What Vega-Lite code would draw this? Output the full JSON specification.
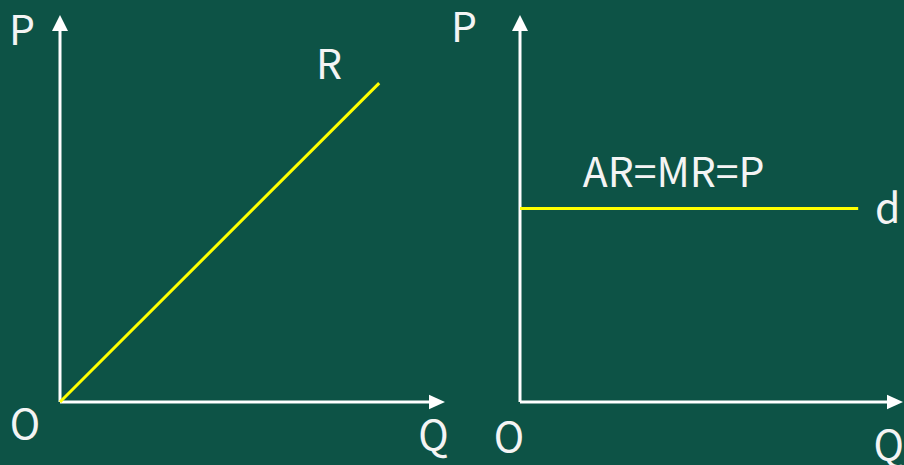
{
  "$schema": "https://vega.github.io/schema/vega-lite/v6.json",
  "background": "#0d5346",
  "padding": {"left": 8, "top": 9, "right": 1, "bottom": 0},
  "spacing": 75,
  "bounds": "flush",
  "config": {
    "view": {"stroke": null},
    "text": {"font": "Noto Sans CJK SC", "fontSize": 41, "color": "#f4f4f4", "align": "center", "baseline": "alphabetic"}
  },
  "datasets": {
    "axesL": [
      {"x": 0, "y": 0, "x2": 9.7, "y2": 0},
      {"x": 0, "y": 0, "x2": 0, "y2": 9.7}
    ],
    "arrowsL": [
      {"x": 10, "y": 0, "dir": "right"},
      {"x": 0, "y": 10, "dir": "up"}
    ],
    "revenue": [
      {"Q": 0, "P": 0},
      {"Q": 8.29, "P": 8.24}
    ],
    "labelsL": [
      {"label": "P", "x": -0.99, "y": 9.22},
      {"label": "R", "x": 6.99, "y": 8.35},
      {"label": "O", "x": -0.91, "y": -0.96},
      {"label": "Q", "x": 9.7, "y": -1.24}
    ],
    "demand": [
      {"Q": 0, "P": 5.0},
      {"Q": 8.83, "P": 5.0}
    ],
    "labelsR": [
      {"label": "P", "x": -1.46, "y": 9.3},
      {"label": "AR=MR=P", "x": 4.01, "y": 5.55},
      {"label": "d", "x": 9.6, "y": 4.63},
      {"label": "O", "x": -0.29, "y": -1.29},
      {"label": "Q", "x": 9.63, "y": -1.5}
    ]
  },
  "hconcat": [
    {
      "width": 385,
      "height": 387,
      "layer": [
        {
          "data": {"name": "axesL"},
          "mark": {"type": "rule", "color": "#ffffff", "strokeWidth": 3},
          "encoding": {
            "x": {"field": "x", "type": "quantitative", "scale": {"domain": [0, 10]}, "axis": null},
            "y": {"field": "y", "type": "quantitative", "scale": {"domain": [0, 10]}, "axis": null},
            "x2": {"field": "x2"},
            "y2": {"field": "y2"}
          }
        },
        {
          "data": {"name": "arrowsL"},
          "mark": {"type": "point", "filled": true, "size": 64, "opacity": 1, "color": "#ffffff"},
          "encoding": {
            "x": {"field": "x", "type": "quantitative", "scale": {"domain": [0, 10]}, "axis": null},
            "y": {"field": "y", "type": "quantitative", "scale": {"domain": [0, 10]}, "axis": null},
            "shape": {"field": "dir", "type": "nominal", "scale": {"domain": ["up", "right"], "range": ["M0,0L-2,4L2,4Z", "M0,0L-4,-1.8L-4,1.8Z"]}, "legend": null}
          }
        },
        {
          "data": {"name": "revenue"},
          "mark": {"type": "line", "color": "#ffff00", "strokeWidth": 3},
          "encoding": {
            "x": {"field": "Q", "type": "quantitative", "scale": {"domain": [0, 10]}, "axis": null},
            "y": {"field": "P", "type": "quantitative", "scale": {"domain": [0, 10]}, "axis": null}
          }
        },
        {
          "data": {"name": "labelsL"},
          "mark": {"type": "text"},
          "encoding": {
            "x": {"field": "x", "type": "quantitative", "scale": {"domain": [0, 10]}, "axis": null},
            "y": {"field": "y", "type": "quantitative", "scale": {"domain": [0, 10]}, "axis": null},
            "text": {"field": "label"}
          }
        }
      ]
    },
    {
      "width": 383,
      "height": 387,
      "layer": [
        {
          "data": {"name": "axesL"},
          "mark": {"type": "rule", "color": "#ffffff", "strokeWidth": 3},
          "encoding": {
            "x": {"field": "x", "type": "quantitative", "scale": {"domain": [0, 10]}, "axis": null},
            "y": {"field": "y", "type": "quantitative", "scale": {"domain": [0, 10]}, "axis": null},
            "x2": {"field": "x2"},
            "y2": {"field": "y2"}
          }
        },
        {
          "data": {"name": "arrowsL"},
          "mark": {"type": "point", "filled": true, "size": 64, "opacity": 1, "color": "#ffffff"},
          "encoding": {
            "x": {"field": "x", "type": "quantitative", "scale": {"domain": [0, 10]}, "axis": null},
            "y": {"field": "y", "type": "quantitative", "scale": {"domain": [0, 10]}, "axis": null},
            "shape": {"field": "dir", "type": "nominal", "scale": {"domain": ["up", "right"], "range": ["M0,0L-2,4L2,4Z", "M0,0L-4,-1.8L-4,1.8Z"]}, "legend": null}
          }
        },
        {
          "data": {"name": "demand"},
          "mark": {"type": "line", "color": "#ffff00", "strokeWidth": 3},
          "encoding": {
            "x": {"field": "Q", "type": "quantitative", "scale": {"domain": [0, 10]}, "axis": null},
            "y": {"field": "P", "type": "quantitative", "scale": {"domain": [0, 10]}, "axis": null}
          }
        },
        {
          "data": {"name": "labelsR"},
          "mark": {"type": "text"},
          "encoding": {
            "x": {"field": "x", "type": "quantitative", "scale": {"domain": [0, 10]}, "axis": null},
            "y": {"field": "y", "type": "quantitative", "scale": {"domain": [0, 10]}, "axis": null},
            "text": {"field": "label"}
          }
        }
      ]
    }
  ]
}
